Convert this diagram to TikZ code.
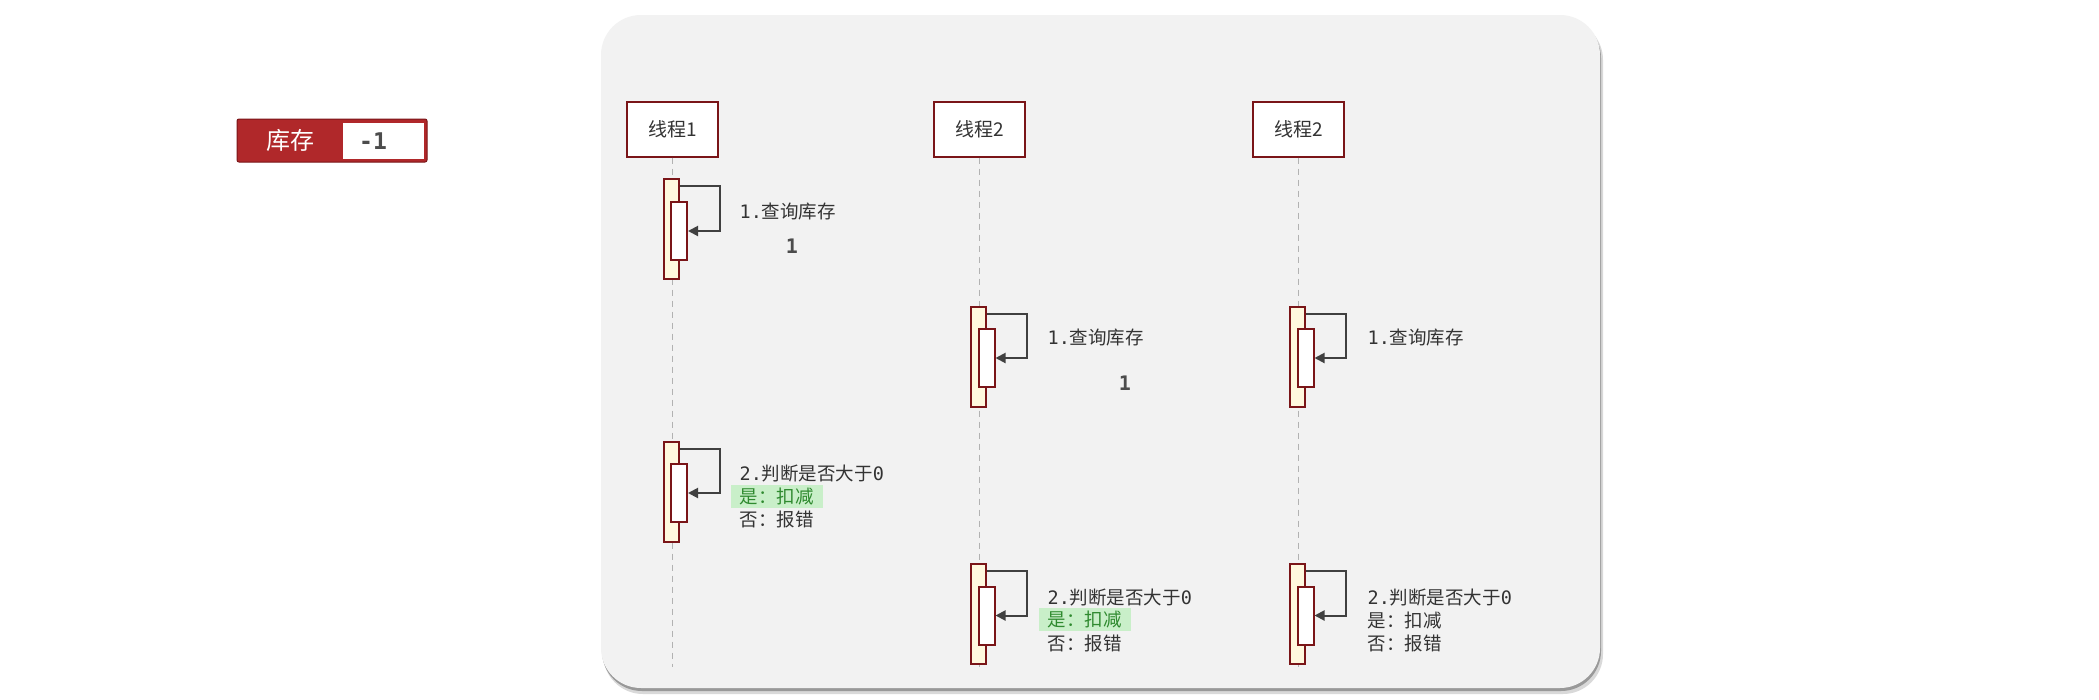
\documentclass[tikz,border=0pt]{standalone}
\usepackage{fontspec}
\setmainfont{Noto Sans CJK SC}
\newfontfamily\mono{DejaVu Sans Mono}
\usetikzlibrary{positioning}
\usetikzlibrary{arrows.meta}

\definecolor{panelgray}{HTML}{F2F2F2}
\definecolor{darkred}{HTML}{7A1518}
\definecolor{badgered}{HTML}{B0282A}
\definecolor{cream}{HTML}{FFF8DE}
\definecolor{txtgray}{HTML}{333333}
\definecolor{hlgreen}{HTML}{C9EFC9}
\definecolor{okgreen}{HTML}{2F8A2F}

\begin{document}
\begin{tikzpicture}[x=1pt,y=-1pt]
	\tikzstyle{thread} = [draw=darkred,line width=2pt,fill=white,minimum width=91pt,minimum height=55pt,inner sep=0pt,text=txtgray,font=\fontsize{19}{22}\selectfont]
	\tikzstyle{actout} = [draw=darkred,line width=2pt,fill=cream,minimum width=15pt,minimum height=100pt,inner sep=0pt]
	\tikzstyle{actin} = [draw=darkred,line width=2pt,fill=white,minimum width=16pt,minimum height=58pt,inner sep=0pt]
	\tikzstyle{lifeline} = [draw=black!30,line width=1.5pt,dash pattern=on 6pt off 5pt]
	\tikzstyle{call} = [draw=black!75,line width=2pt,-{Triangle[length=10pt,width=10pt]}]
	\tikzstyle{msg} = [anchor=west,inner sep=0pt,text=txtgray,font=\fontsize{18.5}{22}\selectfont]
	\tikzstyle{hl} = [msg,fill=hlgreen,text=okgreen,inner xsep=9pt,minimum height=23pt]
	\tikzstyle{val} = [text=black!70,font=\mono\bfseries\fontsize{20}{22}\selectfont]

	\useasboundingbox (0,0) rectangle (2099,699);
	\fill[white] (0,0) rectangle (2099,699);

	% panel
	\fill[black!15,rounded corners=40pt] (603,20) rectangle (1603,694);
	\fill[black!40,rounded corners=40pt] (602,18) rectangle (1601,691);
	\fill[panelgray,rounded corners=40pt] (601,15) rectangle (1600,688);

	% stock badge
	\node[fill=badgered,draw=darkred,line width=1pt,rounded corners=2pt,minimum width=190pt,minimum height=43pt,inner sep=0pt] at (332,140.5) (stock) {};
	\node[fill=white,minimum width=81pt,minimum height=36pt,inner sep=0pt] at (383.5,141) (stockbox) {};
	\node[text=white,font=\fontsize{24}{26}\selectfont] at (290,140) (stocktxt) {库存};
	\node[val,font=\mono\bfseries\fontsize{23}{26}\selectfont] at (373,141) (stockval) {-1};

	\node[thread] at (672.5,129) (t1) {线程1};
	\node[thread] at (979.5,129) (t2) {线程2};
	\node[thread] at (1298.5,129) (t3) {线程2};

	\coordinate (e1) at (672.5,667);
	\coordinate (e2) at (979.5,667);
	\coordinate (e3) at (1298.5,667);

	\begin{scope}[lifeline]
		\draw (t1) -- (e1);
		\draw (t2) -- (e2);
		\draw (t3) -- (e3);
	\end{scope}

	% thread 1
	\node[actout] at (671,229) (a11) {};
	\node[actin] at (679,231) (b11) {};
	\node[actout] at (671,491.5) (a12) {};
	\node[actin] at (679,493) (b12) {};

	% thread 2
	\node[actout] at (978.5,356.5) (a21) {};
	\node[actin] at (986.5,358) (b21) {};
	\node[actout] at (978.5,614) (a22) {};
	\node[actin] at (986.5,615.5) (b22) {};

	% thread 3
	\node[actout] at (1297.5,356.5) (a31) {};
	\node[actin] at (1305.5,358) (b31) {};
	\node[actout] at (1297.5,614) (a32) {};
	\node[actin] at (1305.5,615.5) (b32) {};

	\begin{scope}[call]
		\draw ([yshift=-8pt]a11.north east) -- ++(40,0) |- (b11.east);
		\draw ([yshift=-8pt]a12.north east) -- ++(40,0) |- (b12.east);
		\draw ([yshift=-8pt]a21.north east) -- ++(40,0) |- (b21.east);
		\draw ([yshift=-8pt]a22.north east) -- ++(40,0) |- (b22.east);
		\draw ([yshift=-8pt]a31.north east) -- ++(40,0) |- (b31.east);
		\draw ([yshift=-8pt]a32.north east) -- ++(40,0) |- (b32.east);
	\end{scope}

	\node[msg] at (739.5,212) (q11) {{\mono 1.}查询库存};
	\node[val] at (792,246) (v11) {1};
	\node[msg] at (739.5,474) (q12) {{\mono 2.}判断是否大于{\mono 0}};
	\node[hl] at (730.5,496.5) (y12) {是：扣减};
	\node[msg] at (739.5,519) (n12) {否：报错};

	\node[msg] at (1047.5,338) (q21) {{\mono 1.}查询库存};
	\node[val] at (1125,383) (v21) {1};
	\node[msg] at (1047.5,597) (q22) {{\mono 2.}判断是否大于{\mono 0}};
	\node[hl] at (1038.5,619.5) (y22) {是：扣减};
	\node[msg] at (1047.5,643) (n22) {否：报错};

	\node[msg] at (1367.5,338) (q31) {{\mono 1.}查询库存};
	\node[msg] at (1367.5,597) (q32) {{\mono 2.}判断是否大于{\mono 0}};
	\node[msg] at (1367.5,620) (y32) {是：扣减};
	\node[msg] at (1367.5,643) (n32) {否：报错};
\end{tikzpicture}
\end{document}
